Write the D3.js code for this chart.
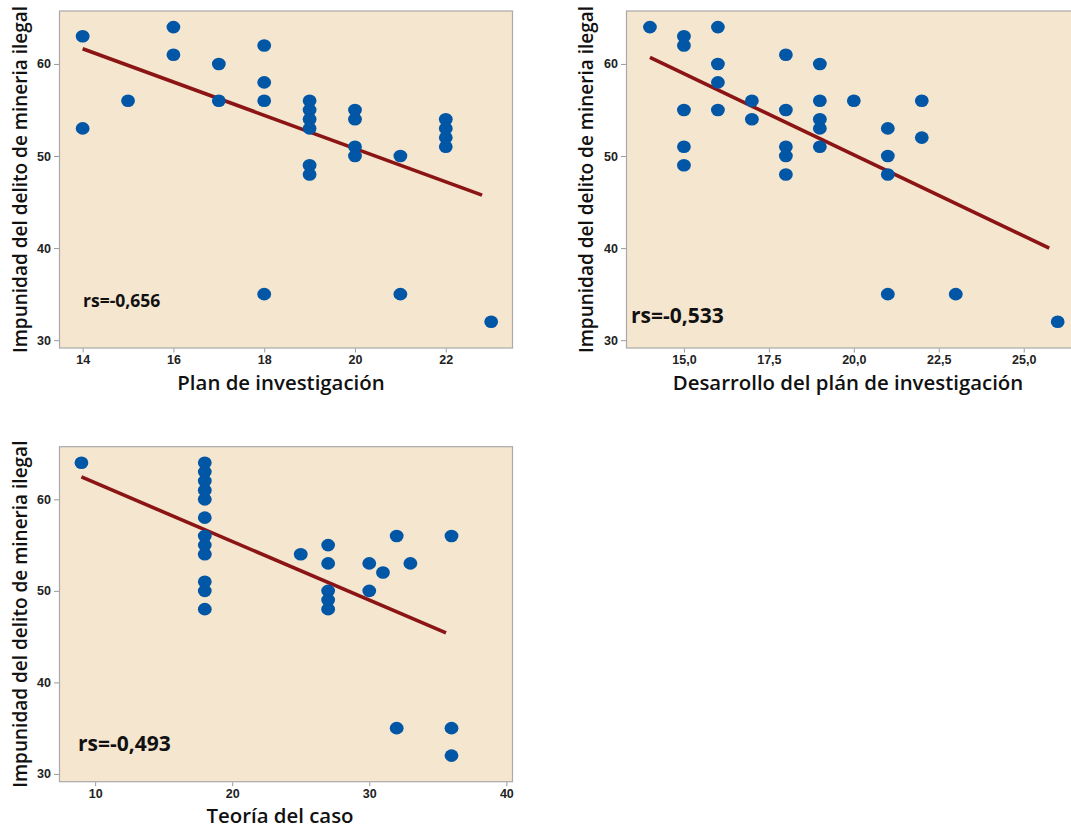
<!DOCTYPE html>
<html>
<head>
<meta charset="utf-8">
<script src="https://cdn.jsdelivr.net/npm/d3@7"></script>
<style>
  body { margin: 0; background: #fff; }
  svg { display: block; font-family: "Open Sans", "Noto Sans", sans-serif; }
</style>
</head>
<body>
<svg id="chart" width="1071" height="832"></svg>
<script>
// panel 1: Plan de investigación
const planX = [14, 14, 15, 16, 16, 17, 17, 18, 18, 18, 18, 19, 19, 19, 19, 19, 19, 20, 20, 20, 20, 21, 21, 22, 22, 22, 22, 23];
const planY = [63, 53, 56, 64, 61, 60, 56, 62, 58, 56, 35, 56, 55, 54, 53, 49, 48, 55, 54, 51, 50, 50, 35, 54, 53, 52, 51, 32];
const planFitX = [14, 22.8];
const planFitY = [61.65, 45.75];

// panel 2: Desarrollo del plán de investigación
const desX = [14, 15, 15, 15, 15, 15, 16, 16, 16, 16, 17, 17, 18, 18, 18, 18, 18, 19, 19, 19, 19, 19, 20, 21, 21, 21, 21, 22, 22, 23, 26];
const desY = [64, 63, 62, 55, 51, 49, 64, 60, 58, 55, 56, 54, 61, 55, 51, 50, 48, 60, 56, 54, 53, 51, 56, 53, 50, 48, 35, 56, 52, 35, 32];
const desFitX = [14, 25.75];
const desFitY = [60.7, 40.0];

// panel 3: Teoría del caso
const teoX = [9, 18, 18, 18, 18, 18, 18, 18, 18, 18, 18, 18, 18, 25, 27, 27, 27, 27, 27, 30, 30, 31, 32, 32, 33, 36, 36, 36];
const teoY = [64, 64, 63, 62, 61, 60, 58, 56, 55, 54, 51, 50, 48, 54, 55, 53, 50, 49, 48, 53, 50, 52, 56, 35, 53, 56, 35, 32];
const teoFitX = [9, 35.6];
const teoFitY = [62.45, 45.4];

const yTicks = [30, 40, 50, 60];
const planTicks = [14, 16, 18, 20, 22];
const desTicks = [15, 17.5, 20, 22.5, 25];
const teoTicks = [10, 20, 30, 40];

const yLabel = "Impunidad del delito de mineria ilegal";
const comma = d3.formatLocale({decimal: ",", thousands: ".", grouping: [3], currency: ["", ""]});

const svg = d3.select("#chart");

const panels = [
  {xs: planX, ys: planY, fx: planFitX, fy: planFitY, ticks: planTicks, fmt: d3.format("d"),
   xDom: [13.49, 23.47], left: 59.5, right: 512.5, top: 11, bottom: 348,
   title: "Plan de investigación", titleX: 281, titleY: 390, yLabX: 20,
   rs: "rs=-0,656", rsX: 83, rsY: 307, rsSize: 17.5},
  {xs: desX, ys: desY, fx: desFitX, fy: desFitY, ticks: desTicks, fmt: comma.format(".1f"),
   xDom: [13.31, 26.45], left: 626.5, right: 1073, top: 11, bottom: 348,
   title: "Desarrollo del plán de investigación", titleX: 848, titleY: 390, yLabX: 586,
   rs: "rs=-0,533", rsX: 631, rsY: 323, rsSize: 21},
  {xs: teoX, ys: teoY, fx: teoFitX, fy: teoFitY, ticks: teoTicks, fmt: d3.format("d"),
   xDom: [7.4, 40.45], left: 59.5, right: 512.5, top: 446.7, bottom: 781.7,
   title: "Teoría del caso", titleX: 280, titleY: 823, yLabX: 20,
   rs: "rs=-0,493", rsX: 78, rsY: 751, rsSize: 21}
];

panels.forEach(p => {
  const x = d3.scaleLinear().domain(p.xDom).range([p.left, p.right]);
  const y = d3.scaleLinear().domain([29.15, 65.75]).range([p.bottom, p.top]);
  const g = svg.append("g");

  g.append("rect")
    .attr("x", p.left).attr("y", p.top)
    .attr("width", p.right - p.left).attr("height", p.bottom - p.top)
    .attr("fill", "#f5e6d0")
    .attr("stroke", "#a9a9a9")
    .attr("stroke-width", 1.2);

  const ax = g.append("g")
    .attr("transform", `translate(0,${p.bottom + 0.5})`)
    .call(d3.axisBottom(x).tickValues(p.ticks).tickFormat(p.fmt).tickSize(4).tickPadding(3));
  const ay = g.append("g")
    .attr("transform", `translate(${p.left - 0.5},0)`)
    .call(d3.axisLeft(y).tickValues(yTicks).tickSize(5).tickPadding(3));
  [ax, ay].forEach(a => {
    a.select(".domain").remove();
    a.selectAll(".tick line").attr("stroke", "#9a9a9a");
    a.selectAll(".tick text")
      .attr("fill", "#222")
      .style("font-size", "12.5px")
      .style("font-weight", "600");
  });

  const line = d3.line().x(d => x(d[0])).y(d => y(d[1]));
  g.append("path")
    .datum(d3.zip(p.fx, p.fy))
    .attr("d", line)
    .attr("fill", "none")
    .attr("stroke", "#8b1414")
    .attr("stroke-width", 3.6);

  g.append("g")
    .selectAll("ellipse")
    .data(d3.zip(p.xs, p.ys))
    .join("ellipse")
    .attr("cx", d => x(d[0]))
    .attr("cy", d => y(d[1]))
    .attr("rx", 6.9)
    .attr("ry", 6.3)
    .attr("fill", "#0156a6");

  g.append("text")
    .attr("x", p.rsX).attr("y", p.rsY)
    .attr("fill", "#111")
    .style("font-size", p.rsSize + "px")
    .style("font-weight", "700")
    .text(p.rs);

  g.append("text")
    .attr("x", p.titleX).attr("y", p.titleY)
    .attr("text-anchor", "middle")
    .attr("fill", "#111")
    .style("font-size", "20.4px")
    .style("font-weight", "600")
    .text(p.title);

  g.append("text")
    .attr("transform", `translate(${p.yLabX + 7},${(p.top + p.bottom) / 2}) rotate(-90)`)
    .attr("text-anchor", "middle")
    .attr("fill", "#111")
    .style("font-size", "19px")
    .style("font-weight", "600")
    .text(yLabel);
});
</script>
</body>
</html>
